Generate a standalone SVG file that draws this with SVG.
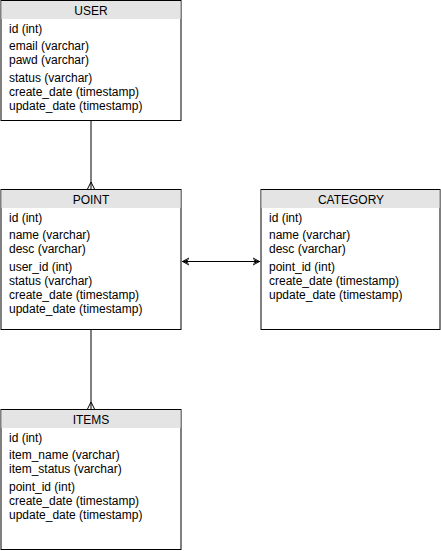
<svg xmlns="http://www.w3.org/2000/svg" width="441" height="551" viewBox="0 0 441 551">
<style>
.box{fill:#fff;stroke:#000;stroke-width:1}
.hdr{fill:#e4e4e4;stroke:none}
.t{font-family:"Liberation Sans",Arial,sans-serif;font-size:12px;fill:#000}
.h{font-family:"Liberation Sans",Arial,sans-serif;font-size:12px;fill:#000;text-anchor:middle}
.ln{stroke:#000;stroke-width:1;fill:none}
.ah{fill:#000;stroke:none}
</style>
<g id="connectors">
<path class="ln" d="M91,121 V190 M87,190 L91,182 L95,190"/>
<path class="ln" d="M91,330 V410 M87,410 L91,402 L95,410"/>
<path class="ln" d="M182,261.5 H260"/>
<path class="ln" d="M189,258 L182.5,261.5 L189,265"/>
<path class="ln" d="M253,258 L259.5,261.5 L253,265"/>
<path class="ah" d="M182.5,261.5 L189,259 L187,261.5 L189,264 Z"/>
<path class="ah" d="M259.5,261.5 L253,259 L255,261.5 L253,264 Z"/>
</g>
<g id="user">
<rect class="box" x="1" y="0.5" width="180" height="120"/>
<rect class="hdr" x="1.5" y="1" width="179" height="18"/>
<text class="h" x="91" y="15">USER</text>
<text class="t" x="9" y="33">id (int)</text>
<text class="t" x="9" y="50">email (varchar)</text>
<text class="t" x="9" y="64">pawd (varchar)</text>
<text class="t" x="9" y="82">status (varchar)</text>
<text class="t" x="9" y="96">create_date (timestamp)</text>
<text class="t" x="9" y="110">update_date (timestamp)</text>
</g>
<g id="point">
<rect class="box" x="1" y="189.5" width="180" height="140"/>
<rect class="hdr" x="1.5" y="190" width="179" height="18"/>
<text class="h" x="91" y="204">POINT</text>
<text class="t" x="9" y="222">id (int)</text>
<text class="t" x="9" y="239">name (varchar)</text>
<text class="t" x="9" y="253">desc (varchar)</text>
<text class="t" x="9" y="271">user_id (int)</text>
<text class="t" x="9" y="285">status (varchar)</text>
<text class="t" x="9" y="299">create_date (timestamp)</text>
<text class="t" x="9" y="313">update_date (timestamp)</text>
</g>
<g id="category">
<rect class="box" x="261" y="189.5" width="179" height="140"/>
<rect class="hdr" x="261.5" y="190" width="178" height="18"/>
<text class="h" x="351" y="204">CATEGORY</text>
<text class="t" x="269" y="222">id (int)</text>
<text class="t" x="269" y="239">name (varchar)</text>
<text class="t" x="269" y="253">desc (varchar)</text>
<text class="t" x="269" y="271">point_id (int)</text>
<text class="t" x="269" y="285">create_date (timestamp)</text>
<text class="t" x="269" y="299">update_date (timestamp)</text>
</g>
<g id="items">
<rect class="box" x="1" y="409.5" width="180" height="140"/>
<rect class="hdr" x="1.5" y="410" width="179" height="18"/>
<text class="h" x="91" y="424">ITEMS</text>
<text class="t" x="9" y="442">id (int)</text>
<text class="t" x="9" y="459">item_name (varchar)</text>
<text class="t" x="9" y="473">item_status (varchar)</text>
<text class="t" x="9" y="491">point_id (int)</text>
<text class="t" x="9" y="505">create_date (timestamp)</text>
<text class="t" x="9" y="519">update_date (timestamp)</text>
</g>
</svg>
